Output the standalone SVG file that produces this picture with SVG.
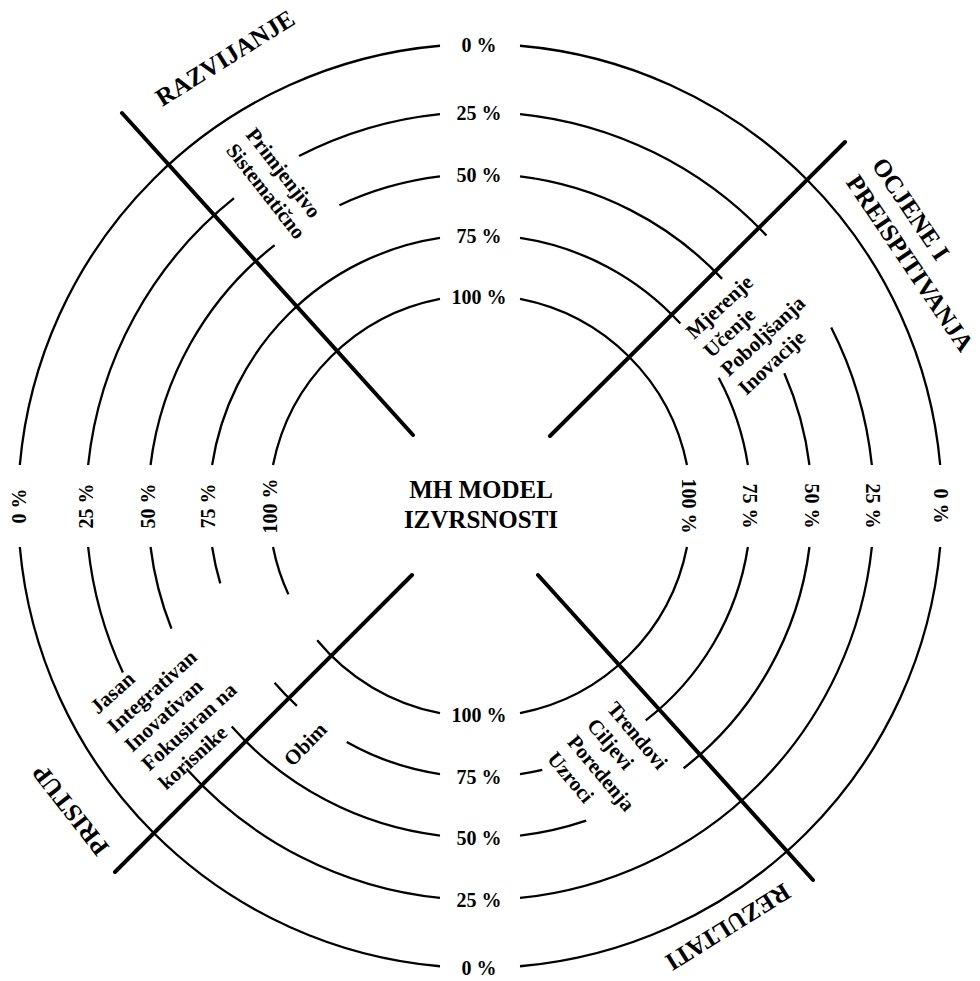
<svg xmlns="http://www.w3.org/2000/svg" width="980" height="981" viewBox="0 0 980 981">
  <style>
    .ring { fill: none; stroke: #000; stroke-width: 2.3; }
    .axis { stroke: #000; stroke-width: 4; stroke-linecap: round; }
    text { font-family: "Liberation Serif", "Times New Roman", serif; font-weight: bold; fill: #000; }
    .pct { font-size: 20px; text-anchor: middle; }
    .lbl { font-size: 21px; }
    .head { font-size: 25px; }
    .mid { text-anchor: middle; }
  </style>
  <rect width="980" height="981" fill="#fff"/>

  <!-- concentric rings, centre (480,506); gaps leave room for labels -->
  <g id="ring-0" class="ring">
    <path d="M940.18,547 A462,462 0 0 1 520,966.27"/>
    <path d="M440,966.27 A462,462 0 0 1 19.82,547"/>
    <path d="M19.82,465 A462,462 0 0 1 440,45.73"/>
    <path d="M520,45.73 A462,462 0 0 1 940.18,465"/>
  </g>
  <g id="ring-25" class="ring">
    <path d="M871.86,547 A394,394 0 0 1 520,897.96"/>
    <path d="M440,897.96 A394,394 0 0 1 186.42,768.77"/>
    <path d="M122.91,672.51 A394,394 0 0 1 88.14,547"/>
    <path d="M88.14,465 A394,394 0 0 1 234.03,198.2"/>
    <path d="M299.04,155.99 A394,394 0 0 1 440,114.04"/>
    <path d="M520,114.04 A394,394 0 0 1 766.47,235.48"/>
    <path d="M831.22,327.44 A394,394 0 0 1 871.86,465"/>
  </g>
  <g id="ring-50" class="ring">
    <path d="M809.46,547 A332,332 0 0 1 683.62,768.23"/>
    <path d="M586.17,820.57 A332,332 0 0 1 520,835.58"/>
    <path d="M440,835.58 A332,332 0 0 1 231.72,726.43"/>
    <path d="M171.44,628.6 A332,332 0 0 1 150.54,547"/>
    <path d="M150.54,465 A332,332 0 0 1 274.62,245.1"/>
    <path d="M339.48,205.2 A332,332 0 0 1 440,176.42"/>
    <path d="M520,176.42 A332,332 0 0 1 722.14,278.86"/>
    <path d="M784.34,373.29 A332,332 0 0 1 809.46,465"/>
  </g>
  <g id="ring-75" class="ring">
    <path d="M747.88,547 A271,271 0 0 1 645.76,720.4"/>
    <path d="M542.25,769.76 A271,271 0 0 1 520,774.03"/>
    <path d="M440,774.03 A271,271 0 0 1 346.71,741.97"/>
    <path d="M296.94,705.84 A271,271 0 0 1 274.57,682.76"/>
    <path d="M220.29,583.42 A271,271 0 0 1 212.12,547"/>
    <path d="M212.12,465 A271,271 0 0 1 440,237.97"/>
    <path d="M520,237.97 A271,271 0 0 1 680.35,323.51"/>
    <path d="M718.7,377.69 A271,271 0 0 1 747.88,465"/>
  </g>
  <g id="ring-100" class="ring">
    <path d="M686.98,547 A211,211 0 0 1 520,713.17"/>
    <path d="M440,713.17 A211,211 0 0 1 317.19,640.21"/>
    <path d="M288.4,594.37 A211,211 0 0 1 273.02,547"/>
    <path d="M273.02,465 A211,211 0 0 1 440,298.83"/>
    <path d="M520,298.83 A211,211 0 0 1 686.98,465"/>
  </g>

  <!-- radial axes -->
  <g id="connectors" class="axis">
    <line x1="413" y1="435" x2="122" y2="113"/>
    <line x1="550" y1="436" x2="845" y2="142"/>
    <line x1="412" y1="575" x2="115" y2="872"/>
    <line x1="538" y1="575" x2="813" y2="880"/>
  </g>

  <!-- percentage scale -->
  <g id="scale-top" class="pct">
    <text x="479" y="52">0 %</text>
    <text x="479" y="120">25 %</text>
    <text x="479" y="182">50 %</text>
    <text x="479" y="243">75 %</text>
    <text x="479" y="304">100 %</text>
  </g>
  <g id="scale-bottom" class="pct">
    <text x="479" y="975">0 %</text>
    <text x="479" y="907">25 %</text>
    <text x="479" y="845">50 %</text>
    <text x="479" y="784">75 %</text>
    <text x="479" y="722">100 %</text>
  </g>
  <g id="scale-left" class="pct">
    <text transform="translate(19,506) rotate(-90)" y="7">0 %</text>
    <text transform="translate(86,506) rotate(-90)" y="7">25 %</text>
    <text transform="translate(148,506) rotate(-90)" y="7">50 %</text>
    <text transform="translate(208,506) rotate(-90)" y="7">75 %</text>
    <text transform="translate(270,506) rotate(-90)" y="7">100 %</text>
  </g>
  <g id="scale-right" class="pct">
    <text transform="translate(941,506) rotate(90)" y="7">0 %</text>
    <text transform="translate(873,506) rotate(90)" y="7">25 %</text>
    <text transform="translate(812,506) rotate(90)" y="7">50 %</text>
    <text transform="translate(750,506) rotate(90)" y="7">75 %</text>
    <text transform="translate(689,506) rotate(90)" y="7">100 %</text>
  </g>

  <!-- centre -->
  <g id="node-center">
    <text class="head mid" x="481" y="498">MH MODEL</text>
    <text class="head mid" x="481" y="528">IZVRSNOSTI</text>
  </g>

  <!-- quadrant: development -->
  <g id="node-razvijanje">
    <text class="head mid" transform="translate(229.5,65) rotate(-32)">RAZVIJANJE</text>
    <text class="lbl" transform="translate(245,135) rotate(52)">
      <tspan x="0" y="0">Primjenjivo</tspan>
      <tspan x="0" y="25">Sistematično</tspan>
    </text>
  </g>

  <!-- quadrant: assessment and review -->
  <g id="node-ocjene">
    <text class="head" transform="translate(871,165) rotate(56)">
      <tspan x="0" y="0">OCJENE I</tspan>
      <tspan x="0" y="31">PREISPITIVANJA</tspan>
    </text>
    <text class="lbl" transform="translate(694,340) rotate(-43)">
      <tspan x="0" y="0">Mjerenje</tspan>
      <tspan x="0" y="25.5">Učenje</tspan>
      <tspan x="0" y="51">Poboljšanja</tspan>
      <tspan x="0" y="76.5">Inovacije</tspan>
    </text>
  </g>

  <!-- quadrant: approach -->
  <g id="node-pristup">
    <text class="head mid" transform="translate(77,805) rotate(-128)">PRISTUP</text>
    <text class="lbl" transform="translate(98,715) rotate(-42)">
      <tspan x="0" y="0">Jasan</tspan>
      <tspan x="0" y="25.5">Integrativan</tspan>
      <tspan x="0" y="51">Inovativan</tspan>
      <tspan x="0" y="76.5">Fokusiran na</tspan>
      <tspan x="0" y="102">korisnike</tspan>
    </text>
    <text class="lbl" transform="translate(292.6,767.5) rotate(-46)">Obim</text>
  </g>

  <!-- quadrant: results -->
  <g id="node-rezultati">
    <text class="head mid" transform="translate(723.5,920) rotate(148)">REZULTATI</text>
    <text class="lbl" transform="translate(606,709) rotate(50)">
      <tspan x="0" y="0">Trendovi</tspan>
      <tspan x="0" y="26">Ciljevi</tspan>
      <tspan x="0" y="52">Poredenja</tspan>
      <tspan x="0" y="78">Uzroci</tspan>
    </text>
  </g>
</svg>
